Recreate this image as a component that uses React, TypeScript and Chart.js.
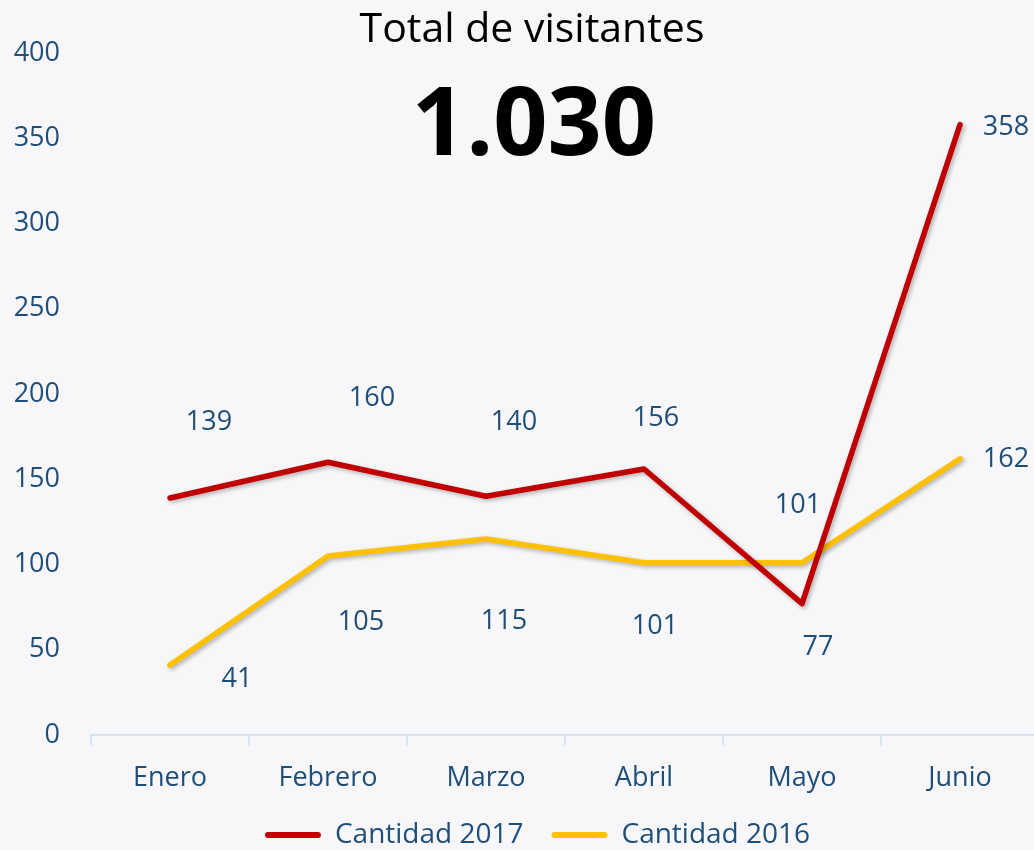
import React, { useEffect, useRef } from "react";
import { Chart, registerables } from "chart.js";

Chart.register(...registerables);

// ---- data ----
const months = ["Enero", "Febrero", "Marzo", "Abril", "Mayo", "Junio"];
const cantidad2017 = [139, 160, 140, 156, 77, 358];
const cantidad2016 = [41, 105, 115, 101, 101, 162];
const seriesNames = ["Cantidad 2017", "Cantidad 2016"];
const titleText = "Total de visitantes";
const totalText = "1.030";
const yMin = 0;
const yMax = 400;
const yStep = 50;

// ---- styling ----
const FONT = "'Open Sans', 'Noto Sans', sans-serif";
const TEXT_BLUE = "#1f4e79";
const RED = "#c00000";
const YELLOW = "#ffc000";
const BG = "#f7f7fa";
const AXIS = "#d6e3f3";
// label offsets in px relative to each point (label placement style)
const labelOffsets2017 = [[39, -76], [44, -64], [28, -74], [12, -51], [16, 44], [46, 3]];
const labelOffsets2016 = [[67, 14], [33, 66], [18, 82], [11, 64], [-4, -57], [46, 1]];

const CANVAS_W = 1075;
const CANVAS_H = 859;

const shadowPlugin = {
  id: "lineShadow",
  beforeDatasetDraw(chart: any) {
    const ctx = chart.ctx;
    ctx.save();
    ctx.shadowColor = "rgba(0,0,0,0.28)";
    ctx.shadowBlur = 4;
    ctx.shadowOffsetX = 2;
    ctx.shadowOffsetY = 2;
  },
  afterDatasetDraw(chart: any) {
    chart.ctx.restore();
  },
};

const dataLabelPlugin = {
  id: "dataLabels",
  afterDatasetsDraw(chart: any) {
    const ctx = chart.ctx;
    ctx.save();
    ctx.font = `27px ${FONT}`;
    ctx.fillStyle = TEXT_BLUE;
    ctx.textAlign = "center";
    ctx.textBaseline = "middle";
    chart.data.datasets.forEach((ds: any, di: number) => {
      const meta = chart.getDatasetMeta(di);
      const offs = ds.labelOffsets || [];
      meta.data.forEach((pt: any, i: number) => {
        const o = offs[i] || [0, -20];
        ctx.fillText(String(ds.data[i]), pt.x + o[0], pt.y + o[1]);
      });
    });
    ctx.restore();
  },
};

const headerPlugin = {
  id: "header",
  afterDraw(chart: any) {
    const ctx = chart.ctx;
    ctx.save();
    ctx.textAlign = "center";
    ctx.textBaseline = "alphabetic";
    ctx.fillStyle = "#000000";
    ctx.font = `41px ${FONT}`;
    ctx.fillText(titleText, 532, 42);
    ctx.font = `bold 95px ${FONT}`;
    ctx.fillText(totalText, 534, 155);
    ctx.restore();
  },
};

export default function App() {
  const ref = useRef<HTMLCanvasElement | null>(null);

  useEffect(() => {
    if (!ref.current) return;
    document.body.style.background = BG;
    Chart.defaults.font.family = FONT;
    const chart = new Chart(ref.current, {
      type: "line",
      data: {
        labels: months,
        datasets: [
          {
            label: seriesNames[0],
            data: cantidad2017,
            borderColor: RED,
            backgroundColor: RED,
            borderWidth: 5.5,
            pointRadius: 0,
            pointHoverRadius: 0,
            borderCapStyle: "round",
            borderJoinStyle: "round",
            tension: 0,
            yAxisID: "y",
            labelOffsets: labelOffsets2017,
          } as any,
          {
            label: seriesNames[1],
            data: cantidad2016,
            borderColor: YELLOW,
            backgroundColor: YELLOW,
            borderWidth: 5.5,
            pointRadius: 0,
            pointHoverRadius: 0,
            borderCapStyle: "round",
            borderJoinStyle: "round",
            tension: 0,
            yAxisID: "y",
            labelOffsets: labelOffsets2016,
          } as any,
        ],
      },
      options: {
        responsive: false,
        animation: false,
        devicePixelRatio: 1,
        layout: { padding: { top: 53, right: 0, left: 0, bottom: 0 } },
        plugins: {
          title: { display: false },
          tooltip: { enabled: false },
          legend: {
            display: true,
            position: "bottom",
            labels: {
              font: { size: 28, family: FONT },
              color: TEXT_BLUE,
              boxWidth: 56,
              boxHeight: 6,
              padding: 28,
              generateLabels: (c: any) =>
                c.data.datasets.map((ds: any, i: number) => ({
                  text: ds.label,
                  fillStyle: ds.borderColor,
                  strokeStyle: ds.borderColor,
                  lineWidth: 0,
                  borderRadius: 3,
                  fontColor: TEXT_BLUE,
                  hidden: false,
                  datasetIndex: i,
                })),
            },
          },
        },
        scales: {
          x: {
            offset: true,
            grid: {
              display: true,
              offset: true,
              drawOnChartArea: false,
              drawTicks: true,
              tickLength: 10,
              color: AXIS,
              lineWidth: 2,
            },
            border: { display: true, color: AXIS, width: 2 },
            ticks: {
              color: TEXT_BLUE,
              font: { size: 27, family: FONT },
              padding: 17,
              maxRotation: 0,
            },
            afterFit: (scale: any) => {
              scale.height = 58;
            },
          },
          y: {
            position: "left",
            min: yMin,
            max: yMax,
            grid: { display: false },
            border: { display: false },
            ticks: {
              stepSize: yStep,
              color: TEXT_BLUE,
              font: { size: 27, family: FONT },
              padding: 23,
              crossAlign: "near",
            },
            afterFit: (scale: any) => {
              scale.width = 91;
            },
          },
          spacer: {
            type: "linear",
            position: "right",
            display: true,
            grid: { display: false },
            border: { display: false },
            ticks: { display: false },
            afterFit: (scale: any) => {
              scale.width = 36;
            },
          },
        },
      },
      plugins: [shadowPlugin, dataLabelPlugin, headerPlugin],
    } as any);
    return () => chart.destroy();
  }, []);

  return (
    <div
      style={{
        position: "absolute",
        left: 0,
        top: 0,
        width: 1034,
        height: 850,
        overflow: "hidden",
        background: BG,
      }}
    >
      <canvas
        ref={ref}
        width={CANVAS_W}
        height={CANVAS_H}
        style={{ display: "block", width: CANVAS_W, height: CANVAS_H }}
      />
    </div>
  );
}
